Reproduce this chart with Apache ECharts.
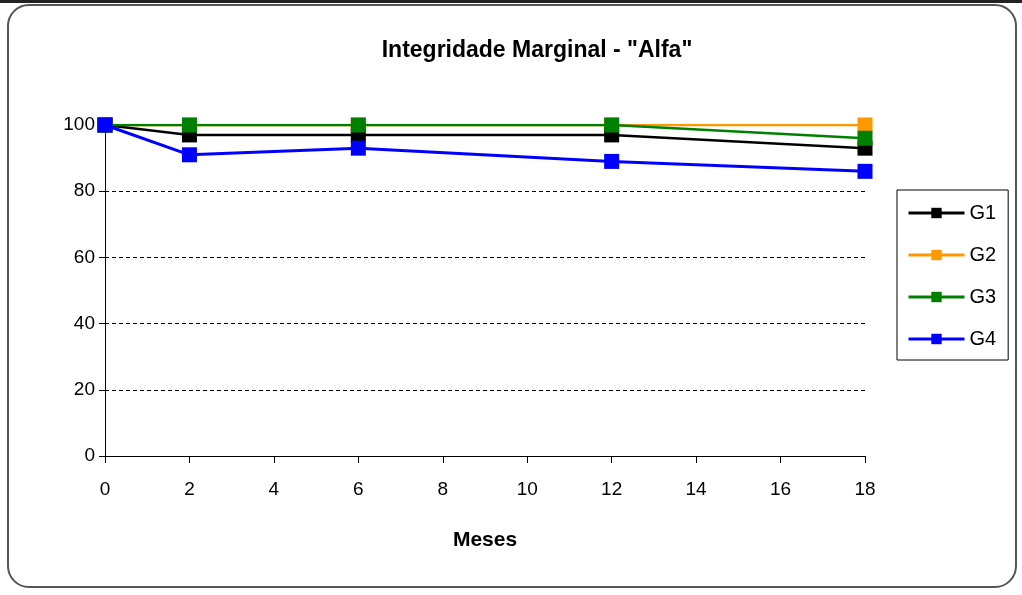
<!DOCTYPE html>
<html><head><meta charset="utf-8">
<script src="https://cdn.jsdelivr.net/npm/echarts@6/dist/echarts.min.js"></script>
<style>
html,body{margin:0;padding:0;background:#fff;}
#frame{position:absolute;left:7px;top:4px;width:1010px;height:584px;border:2px solid #555;border-radius:22px;box-sizing:border-box;}
#topbar{position:absolute;left:0;top:0;width:1022px;height:3px;background:#222;}
#c{position:absolute;left:0;top:0;width:1022px;height:595px;}
</style></head><body>
<div id="topbar"></div>
<div id="frame"></div>
<div id="c"></div>
<script>
const months = [0, 2, 6, 12, 18];
const seriesNames = ['G1', 'G2', 'G3', 'G4'];
const g1 = [100, 97, 97, 97, 93];
const g2 = [100, 100, 100, 100, 100];
const g3 = [100, 100, 100, 100, 96];
const g4 = [100, 91, 93, 89, 86];
const colors = ['#000000', '#FF9900', '#008000', '#0000FF'];

const font = "'Liberation Sans Narrow', 'Liberation Sans', Arial, sans-serif";
const all = [g1, g2, g3, g4];
const chart = echarts.init(document.getElementById('c'), null, {renderer: 'canvas'});
chart.setOption({
  backgroundColor: 'transparent',
  animation: false,
  title: {
    text: 'Integridade Marginal - "Alfa"',
    left: 532, top: 34, textAlign: 'center',
    textStyle: {fontFamily: font, fontWeight: 'bold', fontSize: 23, color: '#000'}
  },
  legend: {
    orient: 'vertical', left: 897, top: 190,
    itemWidth: 56, itemHeight: 13, itemGap: 22,
    padding: [13, 12, 11, 10],
    borderColor: '#000', borderWidth: 1,
    data: seriesNames,
    lineStyle: {width: 3},
    textStyle: {fontFamily: font, fontSize: 20, color: '#000'}
  },
  grid: {left: 105, right: 157, top: 125, bottom: 139},
  xAxis: {
    type: 'value', min: 0, max: 18, interval: 2,
    name: 'Meses', nameLocation: 'middle', nameGap: 74,
    nameTextStyle: {fontFamily: font, fontWeight: 'bold', fontSize: 21, color: '#000'},
    axisLine: {lineStyle: {color: '#000', width: 1}},
    axisTick: {show: true, length: 7, lineStyle: {color: '#000'}},
    axisLabel: {fontFamily: font, fontSize: 19, color: '#000', margin: 24},
    splitLine: {show: false}
  },
  yAxis: {
    type: 'value', min: 0, max: 100, interval: 20,
    axisLine: {show: true, lineStyle: {color: '#000', width: 1}},
    axisTick: {show: true, length: 6, lineStyle: {color: '#000'}},
    axisLabel: {fontFamily: font, fontSize: 19, color: '#000', margin: 10},
    splitLine: {show: true, lineStyle: {color: '#000', type: [4, 3], width: 1}}
  },
  series: seriesNames.map((n, i) => ({
    name: n, type: 'line',
    data: months.map((m, j) => [m, all[i][j]]),
    symbol: 'rect', symbolSize: 15,
    lineStyle: {color: colors[i], width: i === 3 ? 3 : 2.5},
    itemStyle: {color: colors[i], borderWidth: 0},
    z: i === 3 ? 5 : (i === 2 ? 4 : (i === 0 ? 3 : 2))
  }))
});
</script>
</body></html>
